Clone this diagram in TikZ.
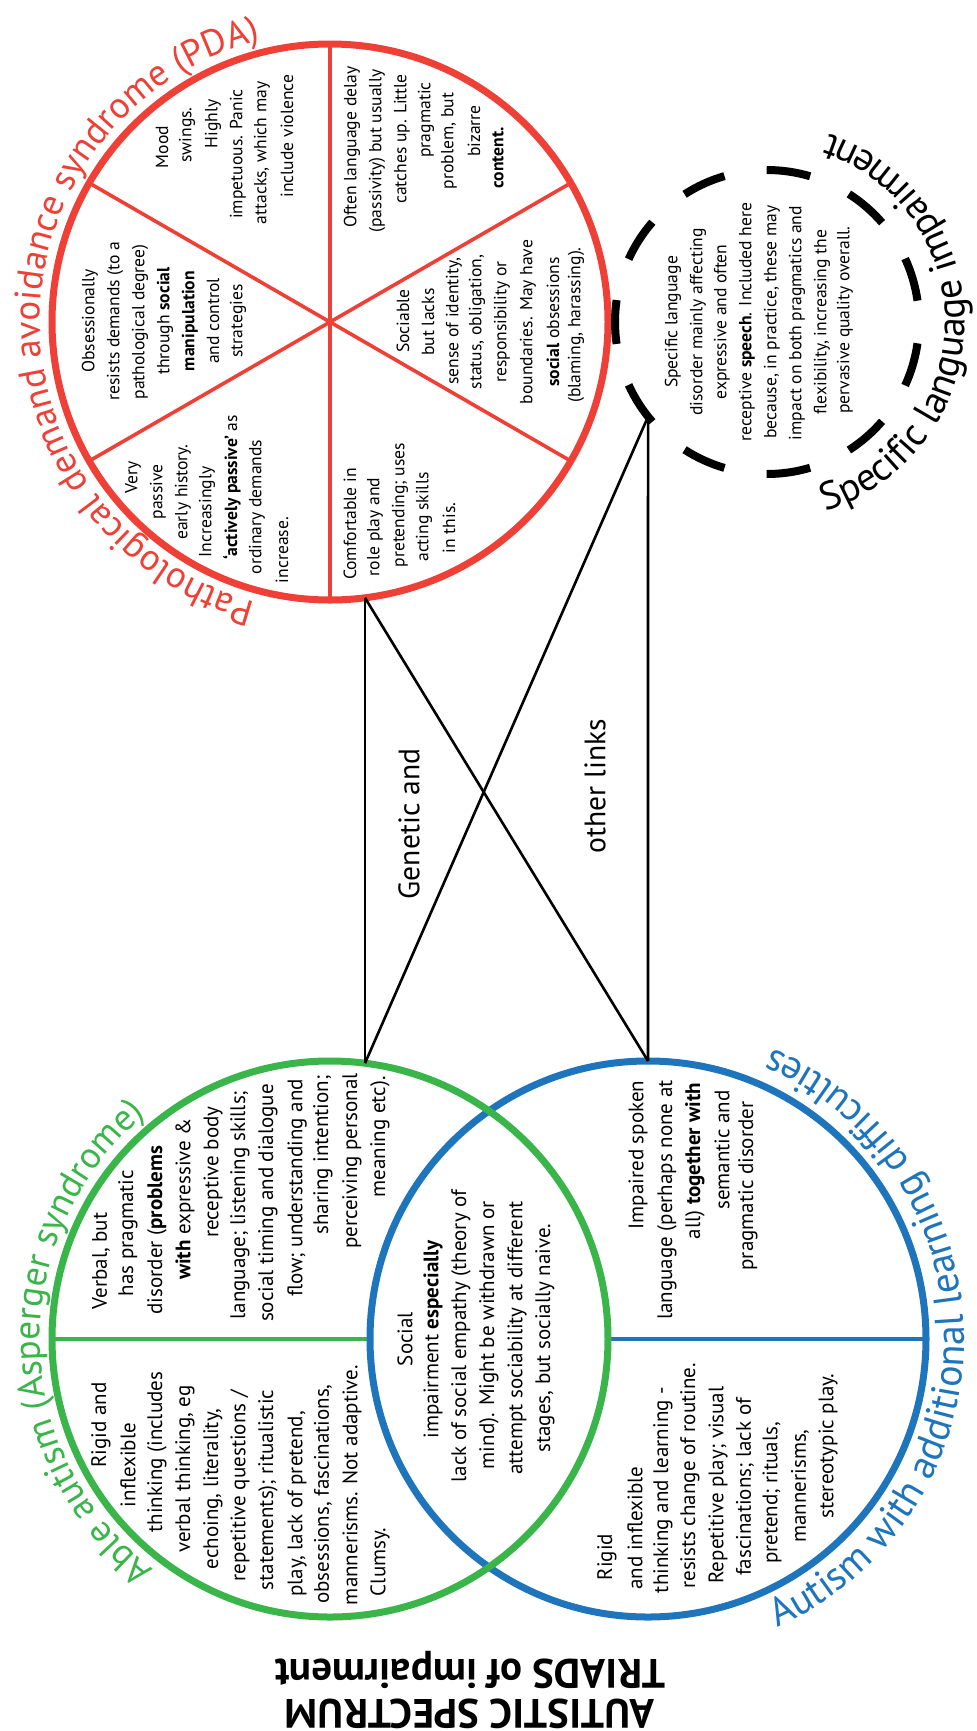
\documentclass[tikz,border=0pt]{standalone}
\usepackage{fontspec}
\setmainfont{PT Sans}
\usetikzlibrary{decorations.text}
\definecolor{pdared}{RGB}{238,64,54}
\definecolor{asgreen}{RGB}{57,181,74}
\definecolor{ldblue}{RGB}{30,117,188}
\newcommand\fbody{\fontsize{10.5}{14}\selectfont}
\newcommand\fsmall{\fontsize{8.8}{12}\selectfont}
\newcommand\farc{\fontsize{18.5}{22}\selectfont}
\newcommand\farcb{\fontsize{20}{24}\selectfont}
\newcommand\farcd{\fontsize{19.6}{24}\selectfont}
\newcommand\placelines[3]{\foreach \lx/\ly/\lt [count=\li] in {#3} {\node[#2] (#1\li) at (\lx,-\ly) {\lt};}}
\begin{document}
\begin{tikzpicture}[x=0.5pt,y=0.5pt,
  ln/.style={rotate=90,inner sep=0pt,font=\fbody},
  lns/.style={rotate=90,inner sep=0pt,font=\fsmall},
  ring/.style={line width=3.5pt},
  spoke/.style={pdared,line width=1.8pt},
  link/.style={black,line width=1.3pt},
  divider/.style={line width=2pt}]
\fill[white] (0,0) rectangle (976,-1731);
\useasboundingbox (0,0) rectangle (976,-1731);
\coordinate (rc) at (330,-322);
\coordinate (gc) at (330,-1339);
\coordinate (bc) at (648,-1339);
\coordinate (dc) at (767,-322);
% PDA circle
\draw[spoke] ([shift={(90:278)}]rc) -- ([shift={(270:278)}]rc);
\draw[spoke] ([shift={(30:278)}]rc) -- ([shift={(210:278)}]rc);
\draw[spoke] ([shift={(150:278)}]rc) -- ([shift={(330:278)}]rc);
\draw[pdared,ring] (rc) circle[radius=278];
% green / blue
\draw[ldblue,divider] ([shift={(0:278)}]gc) -- ([shift={(0:278)}]bc);
\draw[asgreen,divider] ([shift={(180:278)}]gc) -- ([shift={(180:278)}]bc);
\draw[ldblue,ring] (bc) circle[radius=278];
\draw[asgreen,ring] (gc) circle[radius=278];
% dashed circle
\foreach \k in {0,...,10} {\draw[line width=4pt] ([shift={(180+32.727*\k-8.3:152)}]dc) arc[start angle=180+32.727*\k-8.3, delta angle=16.6, radius=152];}
% links
\coordinate (rj) at ([shift={(-82.77:278)}]rc);
\coordinate (gj) at ([shift={(82.77:278)}]gc);
\coordinate (bj) at ([shift={(90:278)}]bc);
\coordinate (dj) at ([shift={(218.5:152)}]dc);
\draw[link] (rj) -- (gj);
\draw[link] (rj) -- (bj);
\draw[link] (dj) -- (bj);
\draw[link] (dj) -- (gj);
\node[rotate=90,inner sep=0pt,font=\fontsize{14.8}{18}\selectfont] (gen) at (409,-824) {Genetic and};
\node[rotate=90,inner sep=0pt,font=\fontsize{14.8}{18}\selectfont] (oth) at (595,-786) {other links};
% arc titles
\path[decorate,decoration={text along path,text align=center,text={|\farc\color{pdared}|Pathological demand avoidance syndrome (PDA)}}] ([shift={(265:290)}]rc) arc[start angle=265,end angle=94,radius=290];
\path[decorate,decoration={text along path,text align=center,text={|\farc\color{asgreen}|Able autism (Asperger syndrome)}}] ([shift={(240:290)}]gc) arc[start angle=240,end angle=122,radius=290];
\path[decorate,decoration={text along path,text align=center,text={|\farcb\color{ldblue}|Autism with additional learning difficulties}}] ([shift={(-75:316)}]bc) arc[start angle=-75,end angle=76,radius=316];
\path[decorate,decoration={text along path,text align=center,text={|\farcd|Specific language impairment}}] ([shift={(-85:198)}]dc) arc[start angle=-85,end angle=84,radius=198];
% green texts
\placelines{tA}{ln}{101/1425/{Rigid and},128/1465/{inflexible},157/1452/{thinking (includes},185/1469/{verbal thinking, eg},213/1489/{echoing, literality,},240/1486/{repetitive questions /},268/1490/{statements); ritualistic},297/1504/{play, lack of pretend,},323/1494/{obsessions, fascinations,},352/1485/{mannerisms. Not adaptive.},380/1562/{Clumsy.}}
\placelines{tB}{ln}{101/1261/{Verbal, but},128/1233/{has pragmatic},157/1230/{disorder (\textbf{problems}},185/1199/{\textbf{with} expressive \&},213/1172/{receptive body},240/1205/{language; listening skills;},268/1203/{social timing and dialogue},297/1188/{flow; understanding and},323/1155/{sharing intention;},352/1161/{perceiving personal},380/1137/{meaning etc).}}
\placelines{tC}{ln}{405/1339/{Social},433/1339/{impairment \textbf{especially}},461/1336/{lack of social empathy (theory of},489/1335/{mind). Might be withdrawn or},517/1338/{attempt sociability at different},545/1338/{stages, but socially naive.}}
% blue texts
\placelines{tD}{ln}{638/1155/{Impaired spoken},667/1200/{language (perhaps none at},695/1161/{all) \textbf{together with}},722/1150/{semantic and},748/1186/{pragmatic disorder}}
\placelines{tE}{ln}{607/1557/{Rigid},635/1528/{and inflexible},663/1490/{thinking and learning -},690/1476/{resists change of routine.},718/1485/{Repetitive play; visual},745/1487/{fascinations; lack of},772/1493/{pretend; rituals,},800/1486/{mannerisms,},828/1446/{stereotypic play.}}
% PDA texts
\placelines{tF}{lns}{162/147/{Mood},187/135/{swings.},213/124/{Highly},238/154/{impetuous. Panic},262/153/{attacks, which may},287/136/{include violence}}
\placelines{tG}{lns}{90/321/{Obsessionally},115/321/{resists demands (to a},140/322/{pathological degree)},165/321/{through \textbf{social}},190/321/{\textbf{manipulation}},213/321/{and control},238/321/{strategies}}
\placelines{tH}{lns}{133/477/{Very},158/492/{passive},183/492/{early history.},207/512/{Increasingly},232/487/{\textbf{‘actively passive’} as},257/507/{ordinary demands},282/550/{increase.}}
\placelines{tI}{lns}{352/147/{Often language delay},377/151/{(passivity) but usually},402/139/{catches up. Little},426/120/{pragmatic},449/141/{problem, but},474/131/{bizarre},498/158/{\textbf{content.}}}
\placelines{tJ}{lns}{403/321/{Sociable},428/322/{but lacks},454/321/{sense of identity,},477/322/{status, obligation,},502/322/{responsibility or},528/322/{boundaries. May have},553/322/{\textbf{social} obsessions},576/325/{(blaming, harassing).}}
\placelines{tK}{lns}{350/524/{Comfortable in},375/527/{role play and},400/505/{pretending; uses},424/517/{acting skills},449/528/{in this.}}
% SLI text
\placelines{tL}{lns}{673/322/{Specific language},698/322/{disorder mainly affecting},722/322/{expressive and often},747/322/{receptive \textbf{speech}. Included here},772/322/{because, in practice, these may},797/323/{impact on both pragmatics and},822/322/{flexibility, increasing the},845/320/{pervasive quality overall.}}
% title
\node[rotate=180,align=center,inner sep=0pt,font=\fontsize{20.5}{20}\selectfont\bfseries] (title) at (470,-1690) {AUTISTIC SPECTRUM\\TRIADS of impairment};
\end{tikzpicture}
\end{document}
